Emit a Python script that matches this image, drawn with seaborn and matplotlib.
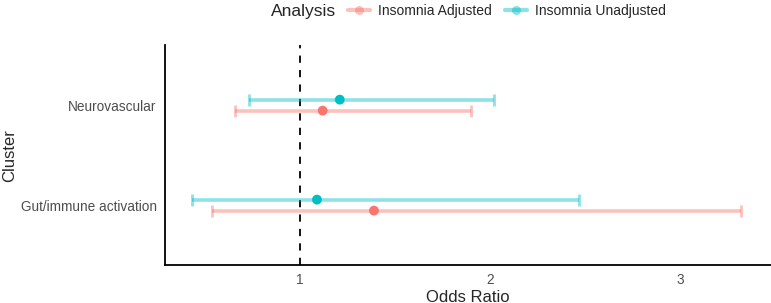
import matplotlib
matplotlib.use("Agg")
import matplotlib.pyplot as plt
import seaborn as sns
import pandas as pd
import numpy as np
from matplotlib.lines import Line2D

clusters = ["Neurovascular", "Gut/immune activation"]
analyses = ["Insomnia Adjusted", "Insomnia Unadjusted"]
or_adjusted = [1.12, 1.39]
lo_adjusted = [0.66, 0.54]
hi_adjusted = [1.90, 3.32]
or_unadjusted = [1.21, 1.09]
lo_unadjusted = [0.73, 0.43]
hi_unadjusted = [2.02, 2.47]

colors = {"Insomnia Adjusted": "#F8766D", "Insomnia Unadjusted": "#00BFC4"}
offsets = {"Insomnia Adjusted": 0.055, "Insomnia Unadjusted": -0.055}

rows = []
for i, c in enumerate(clusters):
    rows.append(dict(cluster=c, pos=i, analysis=analyses[0], OR=or_adjusted[i], lo=lo_adjusted[i], hi=hi_adjusted[i]))
    rows.append(dict(cluster=c, pos=i, analysis=analyses[1], OR=or_unadjusted[i], lo=lo_unadjusted[i], hi=hi_unadjusted[i]))
df = pd.DataFrame(rows)
df["y"] = df["pos"] + df["analysis"].map(offsets)

sns.set_style("white")
plt.rcParams["font.family"] = ["Liberation Sans", "DejaVu Sans"]

fig = plt.figure(figsize=(7.71, 3.03), dpi=100)
ax = fig.add_axes([0.214, 0.125, 0.786, 0.726])

for a in analyses:
    sub = df[df["analysis"] == a]
    ax.errorbar(sub["OR"], sub["y"], xerr=[sub["OR"] - sub["lo"], sub["hi"] - sub["OR"]],
                fmt="none", ecolor=colors[a], alpha=0.45, elinewidth=2.6, capsize=4.5, capthick=2.0, zorder=2)

sns.scatterplot(data=df, x="OR", y="y", hue="analysis", palette=colors, s=50,
                edgecolor="none", legend=False, ax=ax, zorder=3)

ax.axvline(1, color="black", linestyle=(0, (4, 4)), linewidth=1.3, zorder=1)

ax.set_xlim(0.29, 3.48)
ax.set_ylim(1.6, -0.6)
ax.set_yticks(range(len(clusters)))
ax.set_yticklabels(clusters)
ax.set_xticks([1, 2, 3])
ax.tick_params(axis="both", labelsize=9.8, labelcolor="#4D4D4D", length=3.5, width=1, color="#333333", direction="out")
ax.tick_params(axis="y", pad=2.5)
ax.tick_params(axis="x", pad=2)
for s in ["top", "right"]:
    ax.spines[s].set_visible(False)
for s in ["left", "bottom"]:
    ax.spines[s].set_color("black")
    ax.spines[s].set_linewidth(1.3)
ax.set_xlabel("Odds Ratio", fontsize=12, labelpad=2)
ax.set_ylabel("Cluster", fontsize=12)
ax.yaxis.set_label_coords(-0.244, 0.5)

handles = [Line2D([0], [0], color=colors[a], lw=3, alpha=0.45, marker="o",
                  markerfacecolor=colors[a], markeredgecolor=colors[a], markersize=6.5, markeredgewidth=0)
           for a in analyses]
fig.text(0.352, 0.963, "Analysis", fontsize=12.5, va="center", ha="left")
fig.legend(handles, analyses, loc="center left", bbox_to_anchor=(0.451, 0.963), ncol=2, frameon=False,
           fontsize=10, handlelength=1.6, handletextpad=0.6, columnspacing=0.9, borderaxespad=0, borderpad=0)

fig.savefig("out.png", dpi=100)
